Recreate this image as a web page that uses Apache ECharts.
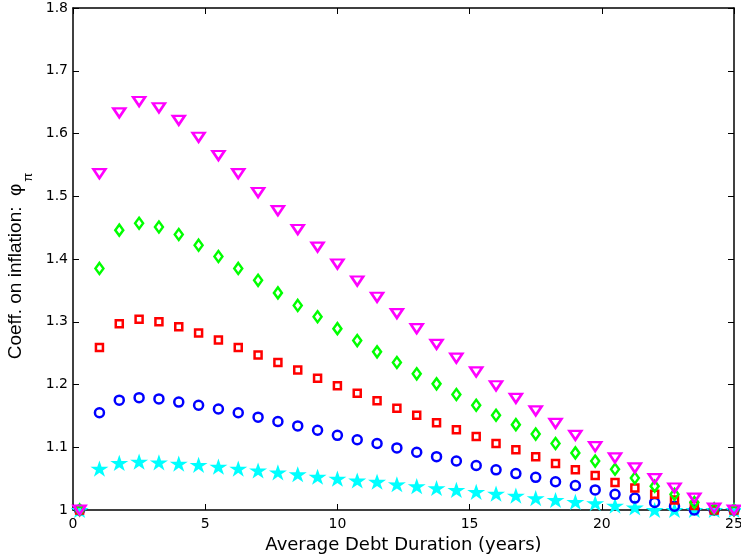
<!DOCTYPE html>
<html>
<head>
    <meta charset="utf-8"/>
    <title>Coeff. on inflation vs debt duration</title>
    <script src="https://cdn.jsdelivr.net/npm/echarts@6/dist/echarts.min.js"></script>
    <style>
        html, body { margin: 0; padding: 0; background: #fff; }
        #main { width: 741px; height: 556px; }
    </style>
</head>
<body>
<div id="main"></div>
<script>
    // average debt duration (years)
    var duration = [0.25, 1, 1.75, 2.5, 3.25, 4, 4.75, 5.5, 6.25, 7, 7.75, 8.5, 9.25, 10, 10.75, 11.5, 12.25,
        13, 13.75, 14.5, 15.25, 16, 16.75, 17.5, 18.25, 19, 19.75, 20.5, 21.25, 22, 22.75, 23.5, 24.25, 25];

    var magenta = [1.0, 1.536, 1.633, 1.651, 1.641, 1.621, 1.594, 1.565, 1.536, 1.506, 1.477, 1.447, 1.419,
        1.392, 1.365, 1.339, 1.313, 1.289, 1.264, 1.242, 1.220, 1.198, 1.178, 1.158, 1.138, 1.119, 1.101,
        1.083, 1.067, 1.050, 1.035, 1.019, 1.003, 1.0];
    var green = [1.0, 1.385, 1.446, 1.457, 1.451, 1.439, 1.422, 1.404, 1.385, 1.366, 1.346, 1.326, 1.308,
        1.289, 1.270, 1.252, 1.235, 1.217, 1.201, 1.184, 1.167, 1.151, 1.136, 1.121, 1.106, 1.091, 1.078,
        1.065, 1.051, 1.038, 1.025, 1.012, 1.002, 1.0];
    var red = [1.0, 1.259, 1.297, 1.304, 1.300, 1.292, 1.282, 1.271, 1.259, 1.247, 1.235, 1.223, 1.210,
        1.198, 1.186, 1.174, 1.162, 1.151, 1.139, 1.128, 1.117, 1.106, 1.096, 1.085, 1.074, 1.064, 1.055,
        1.044, 1.035, 1.025, 1.016, 1.007, 1.0, 1.0];
    var blue = [1.0, 1.155, 1.175, 1.179, 1.177, 1.172, 1.167, 1.161, 1.155, 1.148, 1.141, 1.134, 1.127,
        1.119, 1.112, 1.106, 1.099, 1.092, 1.085, 1.078, 1.071, 1.064, 1.058, 1.052, 1.045, 1.039, 1.032,
        1.025, 1.019, 1.012, 1.006, 1.0, 1.0, 1.0];
    var cyan = [1.0, 1.066, 1.075, 1.077, 1.076, 1.074, 1.072, 1.069, 1.066, 1.063, 1.060, 1.057, 1.053,
        1.050, 1.047, 1.045, 1.041, 1.038, 1.035, 1.032, 1.029, 1.026, 1.023, 1.019, 1.016, 1.013, 1.011,
        1.007, 1.004, 1.0, 1.0, 1.0, 1.0, 1.0];

    var starPath = 'path://M50 0 L61.17 34.63 L97.55 34.55 L68.07 55.87 L79.39 90.45 L50 69 L20.61 90.45 L31.93 55.87 L2.45 34.55 L38.83 34.63 Z';

    function pairs(ys) {
        var out = [];
        for (var i = 0; i < duration.length; i++) {
            out.push([duration[i], ys[i]]);
        }
        return out;
    }

    function hollow(name, ys, color, symbol, size, rotate) {
        return {
            name: name,
            type: 'scatter',
            data: pairs(ys),
            symbol: symbol,
            symbolSize: size,
            symbolRotate: rotate || 0,
            itemStyle: {color: 'rgba(255,255,255,0)', borderColor: color, borderWidth: 2.5, opacity: 1}
        };
    }

    var tickFont = {fontFamily: 'DejaVu Sans', fontSize: 14, color: '#000'};

    var myChart = echarts.init(document.getElementById('main'));
    var option = {
        animation: false,
        backgroundColor: '#fff',
        grid: {left: 73, right: 7, top: 8, bottom: 46, outerBoundsMode: 'none', containLabel: false},
        xAxis: [{
            type: 'value',
            min: 0, max: 25, interval: 5,
            name: 'Average Debt Duration (years)',
            nameLocation: 'middle',
            nameGap: 24,
            nameTextStyle: {fontFamily: 'DejaVu Sans', fontSize: 18, color: '#000'},
            axisLine: {onZero: false, lineStyle: {color: '#000', width: 1.5}},
            axisTick: {inside: true, length: 6, lineStyle: {color: '#000'}},
            axisLabel: Object.assign({margin: 7}, tickFont),
            splitLine: {show: false}
        }, {
            type: 'value',
            position: 'top',
            min: 0, max: 25, interval: 5,
            axisLine: {onZero: false, lineStyle: {color: '#000', width: 1.5}},
            axisTick: {inside: true, length: 6, lineStyle: {color: '#000'}},
            axisLabel: {show: false},
            splitLine: {show: false}
        }],
        yAxis: [{
            type: 'value',
            min: 1, max: 1.8, interval: 0.1,
            name: '{m|Coeff. on inflation:  φ}{s|π}',
            nameLocation: 'middle',
            nameRotate: 90,
            nameGap: 37,
            nameTextStyle: {
                rich: {
                    m: {fontFamily: 'Liberation Sans', fontSize: 19, color: '#000'},
                    s: {fontFamily: 'Liberation Sans', fontSize: 13, color: '#000', padding: [26, 14, 0, 2]}
                }
            },
            axisLine: {onZero: false, lineStyle: {color: '#000', width: 1.5}},
            axisTick: {inside: true, length: 6, lineStyle: {color: '#000'}},
            axisLabel: Object.assign({margin: 5}, tickFont),
            splitLine: {show: false}
        }, {
            type: 'value',
            position: 'right',
            min: 1, max: 1.8, interval: 0.1,
            axisLine: {onZero: false, lineStyle: {color: '#000', width: 1.5}},
            axisTick: {inside: true, length: 6, lineStyle: {color: '#000'}},
            axisLabel: {show: false},
            splitLine: {show: false}
        }],
        series: [
            {
                name: 'cyan',
                type: 'scatter',
                data: pairs(cyan),
                symbol: starPath,
                symbolKeepAspect: true,
                symbolSize: [18, 17],
                itemStyle: {color: '#00ffff', opacity: 1}
            },
            hollow('blue', blue, '#0000ff', 'circle', 9),
            hollow('red', red, '#ff0000', 'rect', 7),
            hollow('green', green, '#00ff00', 'diamond', [8, 11]),
            hollow('magenta', magenta, '#ff00ff', 'triangle', [12, 9], 180)
        ]
    };
    myChart.setOption(option);

    window.onresize = function () {
        myChart.resize();
    };
</script>
</body>
</html>
